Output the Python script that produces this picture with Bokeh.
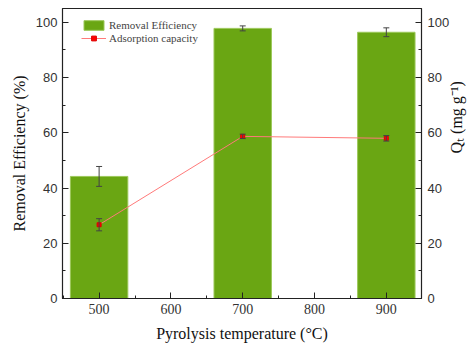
import math
from bokeh.plotting import figure
from bokeh.models import (ColumnDataSource, Range1d, LinearAxis, FixedTicker, Whisker,
                          Legend, LegendItem, TeeHead)
from bokeh.embed import file_html
from bokeh.resources import INLINE

temps = [500, 700, 900]
removal = [44.2, 97.8, 96.4]
removal_err = [3.6, 0.9, 1.6]
qt = [26.7, 58.7, 58.0]
qt_err = [2.2, 0.8, 1.0]

src = ColumnDataSource(dict(
    x=temps, r=removal,
    r_lo=[v - e for v, e in zip(removal, removal_err)],
    r_hi=[v + e for v, e in zip(removal, removal_err)],
    q=qt,
    q_lo=[v - e for v, e in zip(qt, qt_err)],
    q_hi=[v + e for v, e in zip(qt, qt_err)],
))

p = figure(width=476, height=348, output_backend="svg", toolbar_location=None,
           x_range=Range1d(449, 949), y_range=Range1d(0, 105),
           min_border_left=62, min_border_right=50, min_border_top=8, min_border_bottom=50)
p.extra_y_ranges = {"q": Range1d(0, 105)}
p.grid.visible = False
p.outline_line_color = "#222222"
p.outline_line_width = 1.2
p.background_fill_color = "white"
p.border_fill_color = "white"

bars = p.vbar(x="x", top="r", width=80, source=src, fill_color="#6AA613",
              line_color="#9CC85A", line_width=1)


def tee():
    return TeeHead(size=6, line_color="#444444", line_width=1)


p.add_layout(Whisker(source=src, base="x", lower="r_lo", upper="r_hi", level="overlay",
                     line_color="#444444", line_width=1,
                     upper_head=tee(), lower_head=tee()))

ln = p.line("x", "q", source=src, y_range_name="q", line_color="#FF7A7A", line_width=1)
p.add_layout(Whisker(source=src, base="x", lower="q_lo", upper="q_hi", y_range_name="q",
                     level="overlay", line_color="#444444", line_width=1,
                     upper_head=tee(), lower_head=tee()))
pts = p.scatter("x", "q", source=src, y_range_name="q", marker="square", size=4,
                fill_color="#FF0000", line_color="#DD0000", level="overlay")

# axes
for ax in [p.xaxis[0], p.yaxis[0]]:
    ax.major_tick_in = 6
    ax.major_tick_out = 0
    ax.minor_tick_in = 3
    ax.minor_tick_out = 0
    ax.axis_line_color = "#222222"
    ax.major_tick_line_color = "#222222"
    ax.minor_tick_line_color = "#222222"
    ax.major_label_text_font = "Liberation Sans"
    ax.major_label_text_font_size = "13px"
    ax.major_label_text_color = "#333333"
    ax.axis_label_text_font = "Liberation Serif"
    ax.axis_label_text_font_size = "16px"
    ax.axis_label_text_font_style = "normal"
    ax.axis_label_text_color = "#111111"

p.xaxis[0].ticker = FixedTicker(ticks=[500, 600, 700, 800, 900],
                                minor_ticks=[450, 550, 650, 750, 850, 950])
p.xaxis[0].major_label_text_font = "Liberation Serif"
p.xaxis[0].major_label_text_font_size = "14px"
p.xaxis[0].axis_label = "Pyrolysis temperature (\u00b0C)"
p.xaxis[0].axis_label_standoff = 8
p.yaxis[0].ticker = FixedTicker(ticks=[0, 20, 40, 60, 80, 100],
                                minor_ticks=[10, 30, 50, 70, 90])
p.yaxis[0].axis_label = "Removal Efficiency (%)"
p.yaxis[0].axis_label_standoff = 5

ry = LinearAxis(y_range_name="q", axis_label="Q\u209c (mg g\u207b\u00b9)")
ry.ticker = FixedTicker(ticks=[0, 20, 40, 60, 80, 100], minor_ticks=[10, 30, 50, 70, 90])
ry.major_tick_in = 6
ry.major_tick_out = 0
ry.minor_tick_in = 3
ry.minor_tick_out = 0
ry.major_label_standoff = 6
ry.axis_line_color = "#222222"
ry.major_tick_line_color = "#222222"
ry.minor_tick_line_color = "#222222"
ry.major_label_text_font = "Liberation Sans"
ry.major_label_text_font_size = "13px"
ry.major_label_text_color = "#333333"
ry.axis_label_text_font = "Liberation Serif"
ry.axis_label_text_font_size = "16px"
ry.axis_label_text_font_style = "normal"
ry.axis_label_text_color = "#111111"
ry.axis_label_standoff = 4
if "axis_label_orientation" in ry.properties():
    ry.axis_label_orientation = math.pi / 2
p.add_layout(ry, "right")

legend = Legend(items=[LegendItem(label="Removal Efficiency", renderers=[bars]),
                       LegendItem(label="Adsorption capacity", renderers=[ln, pts])],
                location=(19, 254), border_line_color=None, background_fill_alpha=0,
                label_text_font="Liberation Serif", label_text_font_size="11px",
                glyph_width=25, glyph_height=12, spacing=1, padding=0, margin=0,
                label_standoff=3, label_height=12)
p.add_layout(legend)

open("out.html", "w").write(file_html(p, INLINE))
